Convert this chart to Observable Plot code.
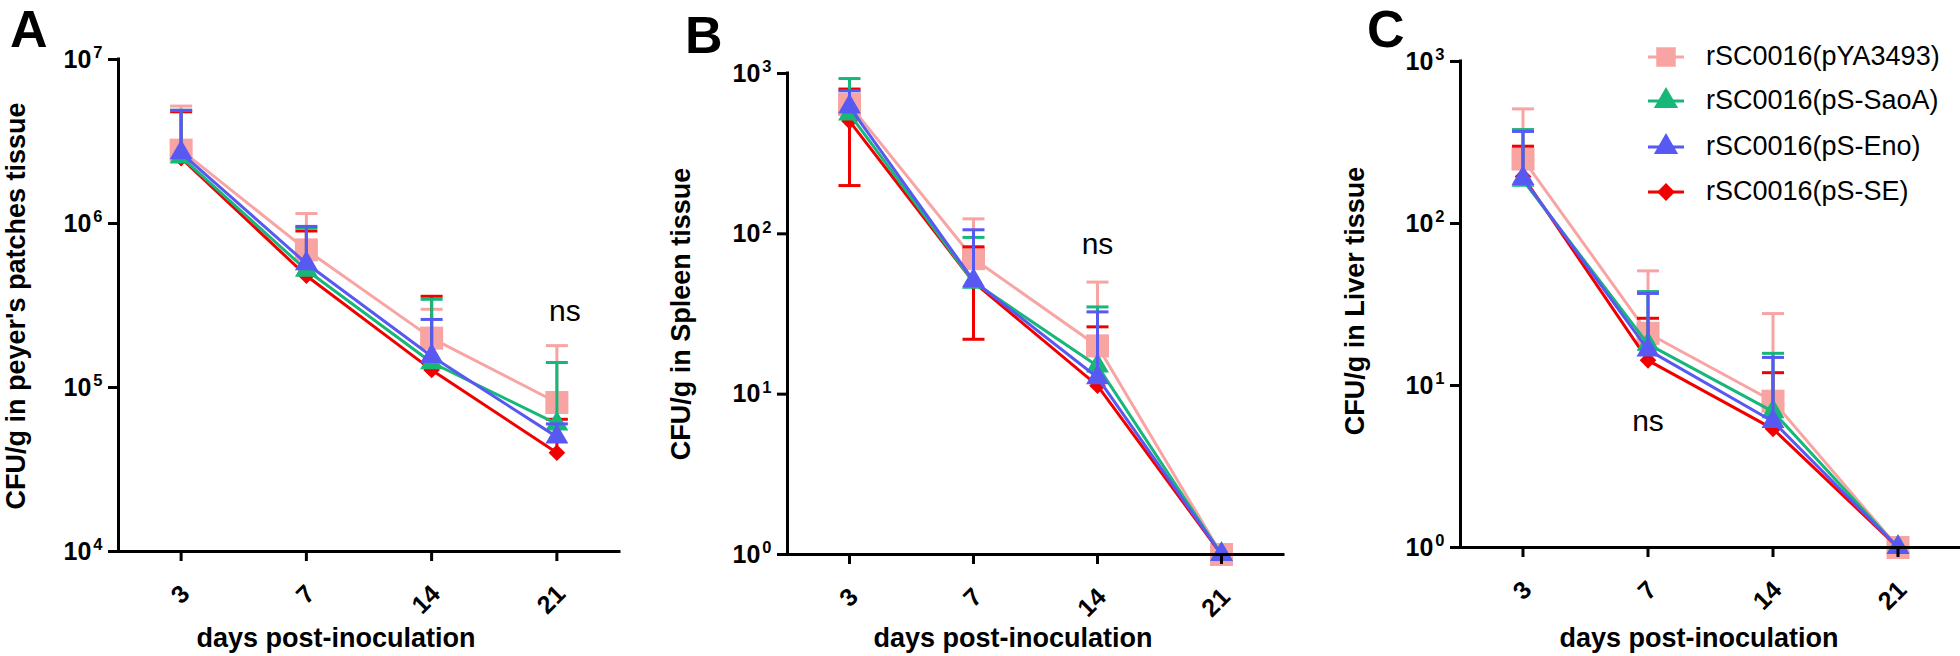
<!DOCTYPE html>
<html>
<head>
<meta charset="utf-8">
<script src="https://cdn.jsdelivr.net/npm/d3@7"></script>
<script src="https://cdn.jsdelivr.net/npm/@observablehq/plot@0.6"></script>
<style>
  html, body { margin: 0; padding: 0; background: #fff; }
  #wrap { position: relative; width: 1960px; height: 656px; overflow: hidden; font-family: "Liberation Sans", Arial, sans-serif; color: #000; }
  .abs { position: absolute; white-space: nowrap; line-height: 1; }
  .letter { font-weight: bold; font-size: 52px; }
  .ytitle { font-weight: bold; font-size: 27px; transform: translate(-50%, -50%) rotate(-90deg); }
  .xtitle { font-weight: bold; font-size: 27px; transform: translateX(-50%); }
  .legtext { font-size: 27px; }
</style>
</head>
<body>
<div id="wrap"></div>
<script>
// ---------- categories ----------
const days = ["3", "7", "14", "21"];
const series = ["rSC0016(pYA3493)", "rSC0016(pS-SaoA)", "rSC0016(pS-Eno)", "rSC0016(pS-SE)"];
const seriesColors = ["#F8A4A3", "#16B779", "#5858F3", "#F20000"];
const seriesSymbols = ["square", "triangle", "triangle", "diamond2"];
const seriesR = [13, 8.5, 8.5, 7.5];
const drawOrder = [0, 3, 1, 2];

// ---------- Panel A: Peyer's patches (CFU/g) ----------
const A_pYA3493_mean = [2.8e6, 6.9e5, 2.0e5, 8.1e4];
const A_pYA3493_upper = [5.2e6, 1.15e6, 3.0e5, 1.8e5];
const A_SaoA_mean = [2.55e6, 5.2e5, 1.42e5, 6.0e4];
const A_SaoA_upper = [4.9e6, 9.4e5, 3.45e5, 1.42e5];
const A_Eno_mean = [2.7e6, 5.7e5, 1.55e5, 5.0e4];
const A_Eno_upper = [4.9e6, 9.6e5, 2.6e5, 6.0e4];
const A_SE_mean = [2.5e6, 4.8e5, 1.28e5, 4.0e4];
const A_SE_upper = [4.8e6, 9.0e5, 3.6e5, 6.4e4];
const A_yTicks = [1e4, 1e5, 1e6, 1e7];

// ---------- Panel B: Spleen (CFU/g) ----------
const B_pYA3493_mean = [640, 70, 20, 1];
const B_pYA3493_upper = [780, 124, 50, null];
const B_SaoA_mean = [560, 50, 15, 1];
const B_SaoA_upper = [930, 95, 35, null];
const B_Eno_mean = [620, 51, 12.7, 1];
const B_Eno_upper = [780, 106, 32.6, null];
const B_SE_mean = [505, 50, 11.3, 1];
const B_SE_upper = [800, 83, 26.3, null];
const B_SE_lower = [200, 22, null, null];
const B_yTicks = [1, 10, 100, 1000];

// ---------- Panel C: Liver (CFU/g) ----------
const C_pYA3493_mean = [250, 21, 8.0, 1];
const C_pYA3493_upper = [510, 51, 27.8, null];
const C_SaoA_mean = [185, 18, 6.9, 1];
const C_SaoA_upper = [380, 38, 15.8, null];
const C_Eno_mean = [190, 16.6, 6.0, 1];
const C_Eno_upper = [370, 37, 14.9, null];
const C_SE_mean = [195, 14.3, 5.4, 1];
const C_SE_upper = [300, 26, 12, null];
const C_yTicks = [1, 10, 100, 1000];

// ---------- "ns" annotations ----------
const nsA = [{day: "21", value: 2.9e5}];
const nsB = [{day: "14", value: 86}];
const nsC = [{day: "7", value: 6.0}];

const FONT = "'Liberation Sans', Arial, sans-serif";
const SVGNS = "http://www.w3.org/2000/svg";
const wrap = document.getElementById("wrap");

const capSymbol = {
  draw(context, size) {
    const w = Math.sqrt(size / Math.PI);
    context.moveTo(-w, 0);
    context.lineTo(w, 0);
  }
};

function buildRows(means, uppers, lowers) {
  return means.map((m, k) => m.map((v, i) => ({
    series: series[k], i, mean: v,
    hi: uppers[k][i],
    lo: lowers && lowers[k] ? lowers[k][i] : null
  })));
}

function panel(opts) {
  const {left, width, marginLeft, marginRight, marginTop, marginBottom, yTicks, rows, ns, nsDx} = opts;
  const marks = [];
  for (const k of drawOrder) {
    const r = rows[k];
    const c = seriesColors[k];
    marks.push(Plot.line(r, {x: "i", y: "mean", stroke: c, strokeWidth: 3, strokeLinejoin: "round"}));
    const withHi = r.filter(d => d.hi != null);
    const withLo = r.filter(d => d.lo != null);
    marks.push(Plot.ruleX(withHi, {x: "i", y1: "mean", y2: "hi", stroke: c, strokeWidth: 3}));
    marks.push(Plot.ruleX(withLo, {x: "i", y1: "lo", y2: "mean", stroke: c, strokeWidth: 3}));
    marks.push(Plot.dot(withHi, {x: "i", y: "hi", symbol: capSymbol, r: 11, stroke: c, strokeWidth: 3, fill: "none"}));
    marks.push(Plot.dot(withLo, {x: "i", y: "lo", symbol: capSymbol, r: 11, stroke: c, strokeWidth: 3, fill: "none"}));
    marks.push(Plot.dot(r, {x: "i", y: "mean", symbol: seriesSymbols[k], r: seriesR[k], fill: c, stroke: "none"}));
  }
  marks.push(Plot.text(ns, {x: d => days.indexOf(d.day), y: "value", text: () => "ns", fontSize: 30, dx: nsDx, fill: "black"}));
  marks.push(Plot.ruleY([yTicks[0]], {stroke: "black", strokeWidth: 3, strokeLinecap: "square"}));
  marks.push(Plot.ruleX([-0.5], {stroke: "black", strokeWidth: 3, strokeLinecap: "square"}));
  // tick marks
  marks.push(Plot.axisY({anchor: "left", ticks: yTicks, tickSize: 10, strokeWidth: 3, tickFormat: () => "", label: null}));
  marks.push(Plot.axisX({anchor: "bottom", ticks: [0, 1, 2, 3], tickSize: 10, strokeWidth: 3, tickFormat: () => "", label: null}));
  // tick labels
  marks.push(Plot.text(yTicks, {
    y: d => d, frameAnchor: "left", textAnchor: "end", dx: -16,
    text: d => "10|" + Math.round(Math.log10(d)),
    fontSize: 25, fontWeight: "bold", fill: "black"
  }));
  marks.push(Plot.text(days, {
    x: (d, i) => i, frameAnchor: "bottom", text: d => d,
    rotate: -45, textAnchor: "end", lineAnchor: "bottom", dx: 10, dy: 44,
    fontSize: 25, fontWeight: "bold", fill: "black"
  }));
  const svg = Plot.plot({
    width, height: 656, marginLeft, marginRight, marginTop, marginBottom,
    x: {type: "linear", domain: [-0.5, 3.5], axis: null},
    y: {type: "log", domain: [yTicks[0], yTicks[yTicks.length - 1]], axis: null},
    style: {fontFamily: FONT, background: "transparent", overflow: "visible"},
    marks
  });
  svg.style.position = "absolute";
  svg.style.left = left + "px";
  svg.style.top = "0px";
  // superscript exponents for y tick labels
  svg.querySelectorAll("text").forEach(t => {
    const s = t.textContent;
    if (!s.includes("|")) return;
    const [base, exp] = s.split("|");
    while (t.firstChild) t.removeChild(t.firstChild);
    const a = document.createElementNS(SVGNS, "tspan");
    a.textContent = base;
    const b = document.createElementNS(SVGNS, "tspan");
    b.textContent = exp;
    b.setAttribute("dy", "-0.55em");
    b.setAttribute("dx", "0.12em");
    b.setAttribute("font-size", "0.66em");
    t.appendChild(a); t.appendChild(b);
  });
  wrap.appendChild(svg);
}

panel({
  left: 0, width: 650, marginLeft: 118, marginRight: 31, marginTop: 59, marginBottom: 105,
  yTicks: A_yTicks, ns: nsA, nsDx: 8,
  rows: buildRows([A_pYA3493_mean, A_SaoA_mean, A_Eno_mean, A_SE_mean],
                  [A_pYA3493_upper, A_SaoA_upper, A_Eno_upper, A_SE_upper])
});
panel({
  left: 660, width: 640, marginLeft: 127, marginRight: 17, marginTop: 73, marginBottom: 102,
  yTicks: B_yTicks, ns: nsB, nsDx: 0,
  rows: buildRows([B_pYA3493_mean, B_SaoA_mean, B_Eno_mean, B_SE_mean],
                  [B_pYA3493_upper, B_SaoA_upper, B_Eno_upper, B_SE_upper],
                  [null, null, null, B_SE_lower])
});
panel({
  left: 1320, width: 640, marginLeft: 140, marginRight: 0, marginTop: 61, marginBottom: 109,
  yTicks: C_yTicks, ns: nsC, nsDx: 0,
  rows: buildRows([C_pYA3493_mean, C_SaoA_mean, C_Eno_mean, C_SE_mean],
                  [C_pYA3493_upper, C_SaoA_upper, C_Eno_upper, C_SE_upper])
});

// ---------- text: panel letters and axis titles ----------
function addText(cls, txt, css) {
  const d = document.createElement("div");
  d.className = "abs " + cls;
  d.textContent = txt;
  Object.assign(d.style, css);
  wrap.appendChild(d);
  return d;
}
addText("letter", "A", {left: "10px", top: "3px"});
addText("letter", "B", {left: "685px", top: "9px"});
addText("letter", "C", {left: "1367px", top: "3px"});
addText("ytitle", "CFU/g in peyer's patches tissue", {left: "16px", top: "306px"});
addText("ytitle", "CFU/g in Spleen tissue", {left: "681px", top: "314px"});
addText("ytitle", "CFU/g in Liver tissue", {left: "1355px", top: "301px"});
addText("xtitle", "days post-inoculation", {left: "336px", top: "625px"});
addText("xtitle", "days post-inoculation", {left: "1013px", top: "625px"});
addText("xtitle", "days post-inoculation", {left: "1699px", top: "625px"});

// ---------- legend (panel C) ----------
const legendRowsY = [57, 101, 147, 192];
series.forEach((name, k) => {
  const y = legendRowsY[k];
  const svg = document.createElementNS(SVGNS, "svg");
  svg.setAttribute("width", 44);
  svg.setAttribute("height", 34);
  svg.style.position = "absolute";
  svg.style.left = "1644px";
  svg.style.top = (y - 17) + "px";
  const line = document.createElementNS(SVGNS, "line");
  line.setAttribute("x1", 4); line.setAttribute("x2", 40);
  line.setAttribute("y1", 17); line.setAttribute("y2", 17);
  line.setAttribute("stroke", seriesColors[k]); line.setAttribute("stroke-width", 3);
  svg.appendChild(line);
  const symMap = {square: d3.symbolSquare, triangle: d3.symbolTriangle, diamond2: d3.symbolDiamond2};
  const rr = [11, 9, 9, 8][k];
  const p = document.createElementNS(SVGNS, "path");
  p.setAttribute("d", d3.symbol(symMap[seriesSymbols[k]], Math.PI * rr * rr)());
  p.setAttribute("transform", "translate(22,17)");
  p.setAttribute("fill", seriesColors[k]);
  svg.appendChild(p);
  wrap.appendChild(svg);
  addText("legtext", name, {left: "1706px", top: (y - 14) + "px"});
});
</script>
</body>
</html>
